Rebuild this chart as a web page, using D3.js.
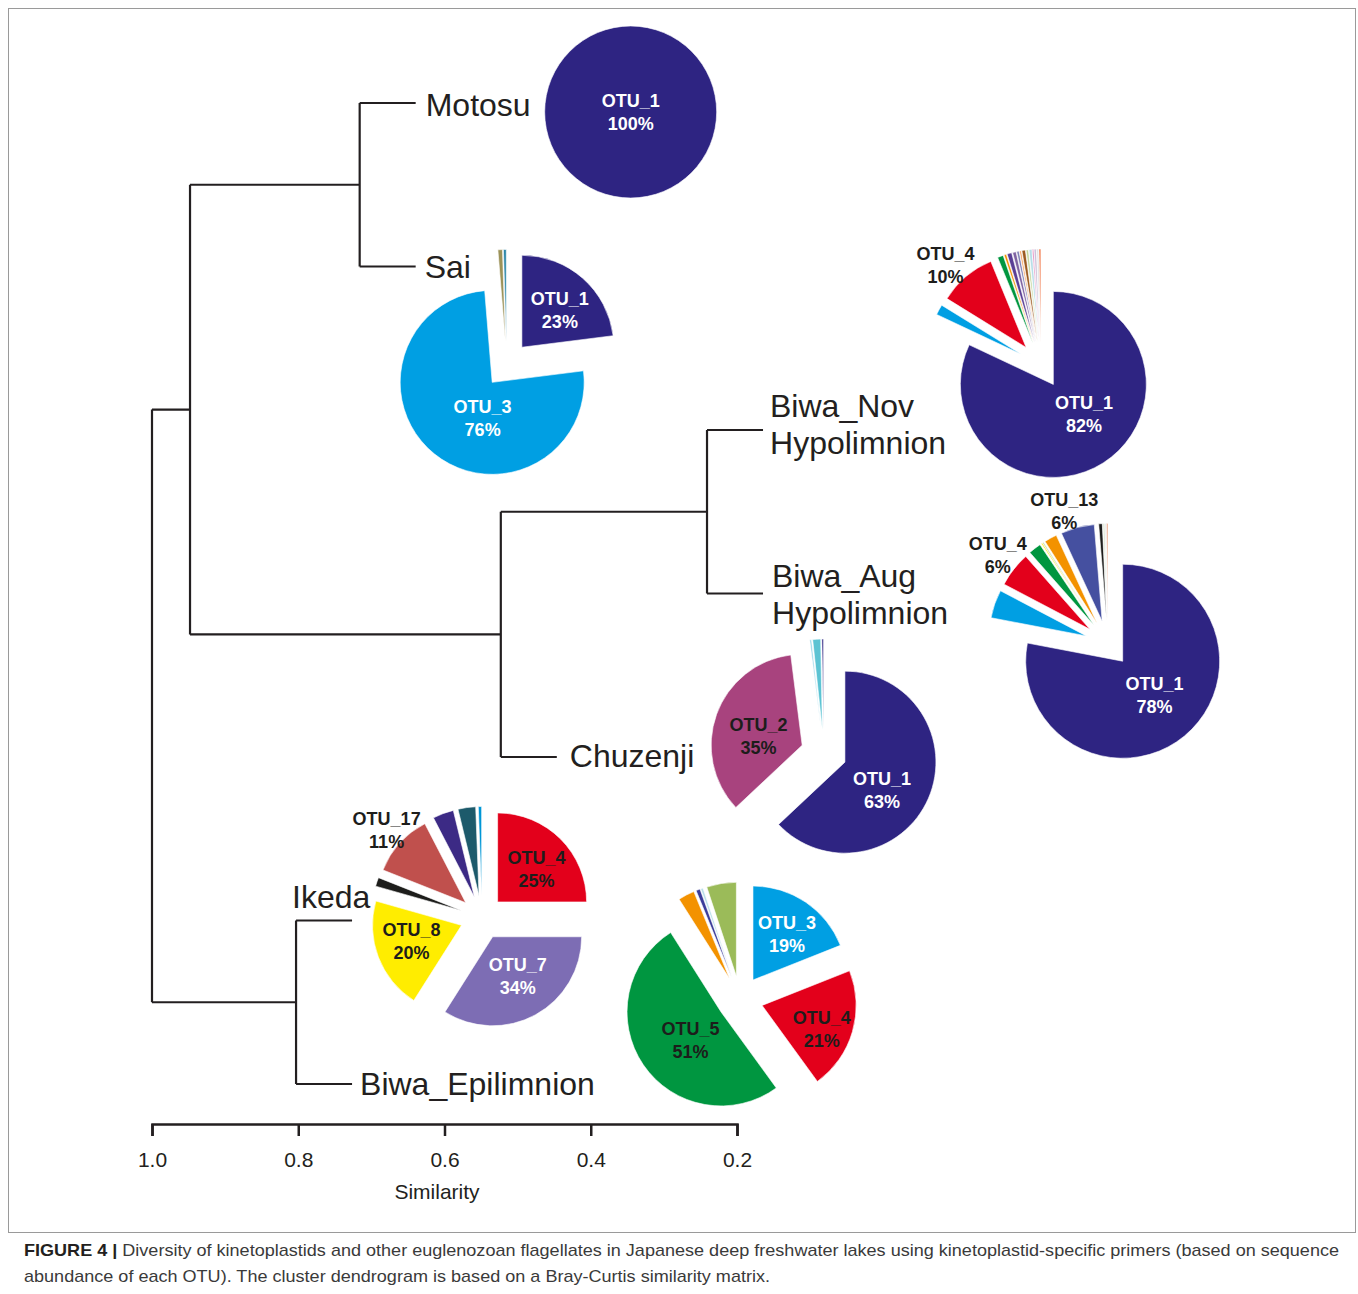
<!DOCTYPE html>
<html>
<head>
<meta charset="utf-8">
<script src="https://cdn.jsdelivr.net/npm/d3@7"></script>
<style>
body { margin: 0; background: #fff; }
text { font-family: "Liberation Sans", Arial, Helvetica, sans-serif; }
</style>
</head>
<body>
<script>
// require D3.js V7

// dendrogram leaves, top to bottom
const leaves = ["Motosu", "Sai", "Biwa_Nov", "Biwa_Aug", "Chuzenji", "Ikeda", "Biwa_Epilimnion"];
const leafLabels = [["Motosu"], ["Sai"], ["Biwa_Nov", "Hypolimnion"], ["Biwa_Aug", "Hypolimnion"],
    ["Chuzenji"], ["Ikeda"], ["Biwa_Epilimnion"]];
// merges: child a, child b, similarity where they join
const mergeA = ["Motosu", "Biwa_Nov", "Biwa_Nov+Biwa_Aug", "Motosu+Sai", "Ikeda", "Motosu+Sai+Biwa_Nov+Biwa_Aug+Chuzenji"];
const mergeB = ["Sai", "Biwa_Aug", "Chuzenji", "Biwa_Nov+Biwa_Aug+Chuzenji", "Biwa_Epilimnion", "Ikeda+Biwa_Epilimnion"];
const mergeSim = [0.716, 0.241, 0.523, 0.948, 0.803, 1.0];
const simTicks = [1.0, 0.8, 0.6, 0.4, 0.2];

// OTU abundance (%) per lake, clockwise from 12 o'clock; m* = minor unnamed OTUs
const motosuOtu = ["OTU_1"];
const motosuPct = [100];
const saiOtu = ["OTU_1", "OTU_3", "m1", "m2"];
const saiPct = [23, 75.7, 0.8, 0.5];
const novOtu = ["OTU_1", "OTU_3", "OTU_4", "m1", "m2", "m3", "m4", "m5", "m6", "m7", "m8", "m9", "m10", "m11", "m12", "m13"];
const novPct = [82, 1.8, 10, 1, 0.4, 0.8, 0.6, 0.4, 0.3, 0.6, 0.4, 0.5, 0.2, 0.4, 0.3, 0.3];
const augOtu = ["OTU_1", "OTU_3", "OTU_4", "m1", "m2", "m3", "m4", "OTU_13", "m5", "m6", "m7", "m8"];
const augPct = [78, 4.7, 5.8, 2.1, 0.2, 0.2, 2.1, 5.6, 0.6, 0.3, 0.2, 0.2];
const chuzOtu = ["OTU_1", "OTU_2", "m1", "m2", "m3"];
const chuzPct = [63, 35, 0.3, 1.4, 0.3];
const ikedaOtu = ["OTU_4", "OTU_7", "OTU_8", "m1", "OTU_17", "m2", "m3", "m4"];
const ikedaPct = [25, 34, 20.4, 1.6, 11.4, 3.8, 3.2, 0.6];
const epiOtu = ["OTU_3", "OTU_4", "OTU_5", "m1", "m2", "m3", "m4"];
const epiPct = [19, 21, 51, 2.8, 0.7, 0.4, 5.1];

// colours (style)
const motosuCol = ["#2e2482"];
const saiCol = ["#2e2482", "#009fe3", "#9c9259", "#2b86a8"];
const novCol = ["#2e2482", "#009fe3", "#e3001b", "#00963f", "#f39200", "#5b3f95", "#8064a2", "#7f7fb5",
    "#f7a35c", "#9c5b21", "#c3d69b", "#b7dee8", "#d6459a", "#ccc1da", "#d9d9d9", "#f05a23"];
const augCol = ["#2e2482", "#009fe3", "#e3001b", "#00963f", "#ffed00", "#c3d69b", "#f39200", "#4550a0",
    "#1d1d1b", "#d9e6d0", "#d9d9d9", "#e07a4a"];
const chuzCol = ["#2e2482", "#a8437e", "#8fd3e8", "#5bc3d3", "#2e2482"];
const ikedaCol = ["#e3001b", "#7d6db4", "#ffed00", "#1d1d1b", "#c0504d", "#3c2a85", "#1d5a6b", "#0096d6"];
const epiCol = ["#009fe3", "#e3001b", "#009640", "#f39200", "#3b3d9a", "#b7dee8", "#9bbb59"];

// pie layout relative to the end of each leaf stub
const pieLayout = {
    Motosu:          {dx: 215, dy: 9,   r: 86, explode: 0},
    Sai:             {dx: 91,  dy: 98,  r: 92, explode: 23},
    Biwa_Nov:        {dx: 278, dy: -65, r: 93, explode: 23},
    Biwa_Aug:        {dx: 345, dy: 50,  r: 97, explode: 23},
    Chuzenji:        {dx: 267, dy: -4,  r: 91, explode: 23},
    Ikeda:           {dx: 130, dy: -3,  r: 89, explode: 22},
    Biwa_Epilimnion: {dx: 388, dy: -85, r: 94, explode: 23}
};
// which slices get a label: angle nudge (deg), radius fraction, text colour
const W = "#ffffff", K = "#1d1d1b";
const sliceLabels = {
    Motosu:   {OTU_1: [0, 0, W]},
    Sai:      {OTU_1: [4, 0.58, W], OTU_3: [-24, 0.40, W]},
    Biwa_Nov: {OTU_1: [-13.5, 0.46, W], OTU_4: [-4, 1.24, K]},
    Biwa_Aug: {OTU_1: [-3.7, 0.48, W], OTU_4: [0.6, 1.22, K], OTU_13: [-4.3, 1.2, K]},
    Chuzenji: {OTU_1: [13.7, 0.51, W], OTU_2: [-8, 0.49, K]},
    Ikeda:    {OTU_4: [5, 0.57, K], OTU_7: [-4, 0.52, W], OTU_8: [3, 0.59, K], OTU_17: [0.6, 1.21, K]},
    Biwa_Epilimnion: {OTU_3: [2.3, 0.61, W], OTU_4: [5, 0.68, K], OTU_5: [-8, 0.44, K]}
};
// leaf label offsets
const leafLabelPos = {
    Motosu: [10, 2], Sai: [9, 0], Biwa_Nov: [7, -5.5], Biwa_Aug: [9, 1],
    Chuzenji: [13, -1], Ikeda: [-60, -24], Biwa_Epilimnion: [8, 0]
};

const width = 1358, height = 1294;
const svg = d3.select("body").append("svg")
    .attr("width", width)
    .attr("height", height);

// frame
svg.append("rect")
    .attr("x", 8.5).attr("y", 8.5)
    .attr("width", 1347).attr("height", 1224)
    .attr("fill", "none").attr("stroke", "#9a9a9a").attr("stroke-width", 1);

const x = d3.scaleLinear().domain([1.0, 0.2]).range([152, 737]);
const y = d3.scalePoint().domain(leaves).range([103, 1084]);
const stub = 56;

// build nodes
const nodes = {};
leaves.forEach(l => nodes[l] = {leaf: true, y: y(l)});
mergeA.forEach((a, i) => {
    const b = mergeB[i];
    nodes[a + "+" + b] = {leaf: false, a: a, b: b, x: x(mergeSim[i]), y: (nodes[a].y + nodes[b].y) / 2};
});

const dendro = svg.append("g")
    .attr("fill", "none")
    .attr("stroke", "#231f20")
    .attr("stroke-width", 2.2);

const stubEnd = {};
Object.values(nodes).filter(n => !n.leaf).forEach(n => {
    dendro.append("line")
        .attr("x1", n.x).attr("x2", n.x)
        .attr("y1", nodes[n.a].y).attr("y2", nodes[n.b].y);
    [n.a, n.b].forEach(c => {
        const child = nodes[c];
        const x2 = child.leaf ? n.x + stub : child.x;
        if (child.leaf) stubEnd[c] = x2;
        dendro.append("line")
            .attr("x1", n.x).attr("x2", x2)
            .attr("y1", child.y).attr("y2", child.y);
    });
});

// leaf labels
leaves.forEach((l, i) => {
    const p = leafLabelPos[l];
    const lines = leafLabels[i];
    const t = svg.append("text")
        .attr("x", stubEnd[l] + p[0])
        .attr("y", y(l) + p[1] - (lines.length - 1) * 37 / 2)
        .attr("fill", "#231f20")
        .style("font-size", "32px")
        .attr("dominant-baseline", "central");
    lines.forEach((s, j) => {
        t.append("tspan").attr("x", stubEnd[l] + p[0]).attr("dy", j === 0 ? 0 : 37).text(s);
    });
});

// pies
function drawPie(lake, otus, pcts, cols) {
    const lay = pieLayout[lake];
    const cx = stubEnd[lake] + lay.dx, cy = y(lake) + lay.dy;
    const pie = d3.pie().sort(null).value(d => d.v);
    const arcs = pie(otus.map((o, i) => ({otu: o, v: pcts[i], c: cols[i]})));
    const arc = d3.arc().innerRadius(0).outerRadius(lay.r);
    const g = svg.append("g").attr("transform", `translate(${cx},${cy})`);
    const off = d => {
        const m = (d.startAngle + d.endAngle) / 2;
        return [Math.sin(m) * lay.explode, -Math.cos(m) * lay.explode];
    };
    g.selectAll("path")
        .data(arcs)
        .join("path")
        .attr("d", arc)
        .attr("transform", d => "translate(" + off(d) + ")")
        .attr("fill", d => d.data.c)
        .attr("stroke", "#fff")
        .attr("stroke-width", 0.6);

    const labs = sliceLabels[lake];
    arcs.filter(d => labs[d.data.otu]).forEach(d => {
        const [nudge, frac, fill] = labs[d.data.otu];
        const o = off(d);
        const m = (d.startAngle + d.endAngle) / 2 + nudge * Math.PI / 180;
        const lx = o[0] + Math.sin(m) * frac * lay.r;
        const ly = o[1] - Math.cos(m) * frac * lay.r;
        const t = g.append("text")
            .attr("text-anchor", "middle")
            .attr("fill", fill)
            .style("font-size", "18px")
            .style("font-weight", "bold");
        t.append("tspan").attr("x", lx).attr("y", ly - 5).text(d.data.otu);
        t.append("tspan").attr("x", lx).attr("y", ly + 18).text(Math.round(d.data.v) + "%");
    });
}

drawPie("Motosu", motosuOtu, motosuPct, motosuCol);
drawPie("Sai", saiOtu, saiPct, saiCol);
drawPie("Biwa_Nov", novOtu, novPct, novCol);
drawPie("Biwa_Aug", augOtu, augPct, augCol);
drawPie("Chuzenji", chuzOtu, chuzPct, chuzCol);
drawPie("Ikeda", ikedaOtu, ikedaPct, ikedaCol);
drawPie("Biwa_Epilimnion", epiOtu, epiPct, epiCol);

// similarity axis
const axis = svg.append("g")
    .attr("transform", "translate(0,1124)")
    .call(d3.axisBottom(x)
        .tickValues(simTicks)
        .tickFormat(d3.format(".1f"))
        .tickSize(12)
        .tickPadding(16));
axis.select(".domain").attr("stroke", "#231f20").attr("stroke-width", 2.5);
axis.selectAll(".tick line").attr("stroke", "#231f20").attr("stroke-width", 2.5);
axis.selectAll(".tick text")
    .attr("fill", "#231f20")
    .style("font-size", "21px")
    .style("font-family", "'Liberation Sans', Arial, sans-serif");

svg.append("text")
    .attr("x", 437).attr("y", 1191)
    .attr("text-anchor", "middle")
    .attr("dominant-baseline", "central")
    .attr("fill", "#231f20")
    .style("font-size", "21px")
    .text("Similarity");

// caption
const cap1 = svg.append("text")
    .attr("x", 24).attr("y", 1256)
    .attr("fill", "#231f20")
    .style("font-size", "17px")
    .attr("textLength", 1315)
    .attr("lengthAdjust", "spacingAndGlyphs");
cap1.append("tspan").style("font-weight", "bold").text("FIGURE 4 | ");
cap1.append("tspan").attr("fill", "#3a3a3a")
    .text("Diversity of kinetoplastids and other euglenozoan flagellates in Japanese deep freshwater lakes using kinetoplastid-specific primers (based on sequence");
svg.append("text")
    .attr("x", 24).attr("y", 1282)
    .attr("fill", "#3a3a3a")
    .style("font-size", "17px")
    .attr("textLength", 746)
    .attr("lengthAdjust", "spacingAndGlyphs")
    .text("abundance of each OTU). The cluster dendrogram is based on a Bray-Curtis similarity matrix.");
</script>
</body>
</html>
